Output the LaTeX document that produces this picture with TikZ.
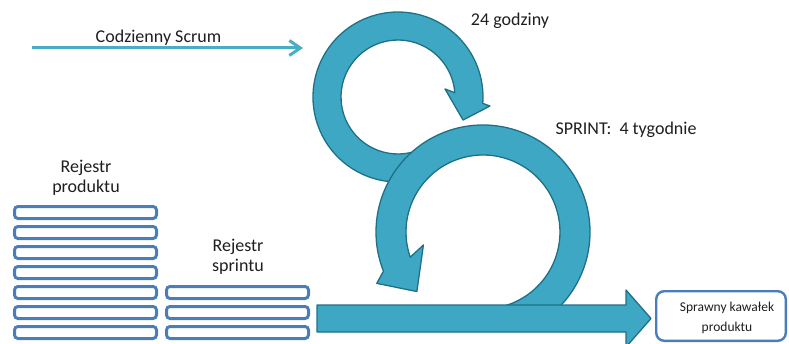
\documentclass[tikz,border=0pt]{standalone}
\usepackage{fontspec}
\setmainfont{Carlito}
\usetikzlibrary{calc,arrows.meta}
\definecolor{ringfill}{RGB}{62,168,196}
\definecolor{ringedge}{RGB}{31,112,134}
\definecolor{scrumline}{RGB}{75,172,198}
\definecolor{itemblue}{RGB}{74,126,187}
\definecolor{textgray}{RGB}{30,30,30}
\tikzset{
  ring/.style={fill=ringfill, draw=ringedge, line width=1.3pt, line join=round},
  item/.style={draw=itemblue, line width=3pt, rounded corners=3.5pt,
    minimum width=142pt, minimum height=12pt, inner sep=0pt},
  txt/.style={font=\fontsize{18}{21}\selectfont, text=textgray, inner sep=0pt, anchor=base},
  smalltxt/.style={font=\fontsize{13.5}{16}\selectfont, text=textgray, inner sep=0pt, anchor=base},
  dailyline/.style={draw=scrumline, line width=3pt,
    -{Straight Barb[length=11pt,width=15pt,line width=3pt]}}
}
\begin{document}
\begin{tikzpicture}[x=1pt,y=1pt]
\useasboundingbox (0,0) rectangle (789,343);

% daily scrum line
\coordinate (ds) at (32,295);
\coordinate (de) at (303,295);
\draw[dailyline] (ds) -- (de);
\node[txt] (daily) at (158.5,300) {Codzienny Scrum};

% 24-hour loop
\coordinate (c1) at (398,246);
\draw[ring] ($(c1)+(-72:85)$) arc[start angle=-72, end angle=-364.3, radius=85]
  -- ($(c1)+(-365.6:92.4)$) -- ($(c1)+(-379.5:69)$) -- ($(c1)+(-350.3:47.7)$)
  -- ($(c1)+(-355.7:57)$) arc[start angle=-355.7, end angle=-72, radius=57] -- cycle;

% sprint loop
\coordinate (c2) at (483,111);
\draw[ring] ($(c2)+(-66:107)$) arc[start angle=-66, end angle=201.5, radius=107]
  -- ($(c2)+(205.8:118)$) -- ($(c2)+(222:89)$) -- ($(c2)+(192.3:61)$)
  -- ($(c2)+(199.1:77)$) arc[start angle=199.1, end angle=-78, radius=77] -- cycle;

% flow towards the increment
\draw[ring] (317,38) -- (626,38) -- (626,53) -- (651,24.5) -- (626,-4) -- (626,11)
  -- (317,11) -- cycle;

% backlog items
\foreach \i in {0,...,6}
  \node[item] (p\i) at (85.5,{130.5-20*\i}) {};
\foreach \i in {4,5,6}
  \node[item] (s\i) at (237.5,{130.5-20*\i}) {};

% increment box
\node[draw=itemblue, line width=2.4pt, rounded corners=8pt, minimum width=129.6pt,
  minimum height=49.6pt, inner sep=0pt] (out) at (721,27) {};
\node[smalltxt] (out1) at (727,31.3) {Sprawny kawałek};
\node[smalltxt] (out2) at (727,11.3) {produktu};

% captions
\node[txt] (day) at (510,317) {24 godziny};
\node[txt] (sprint) at (626,208) {SPRINT:\hspace{0.45em}4 tygodnie};
\node[txt] (pb1) at (86,171) {Rejestr};
\node[txt] (pb2) at (86,150) {produktu};
\node[txt] (sb1) at (238,91.3) {Rejestr};
\node[txt] (sb2) at (238,71.3) {sprintu};
\end{tikzpicture}
\end{document}
